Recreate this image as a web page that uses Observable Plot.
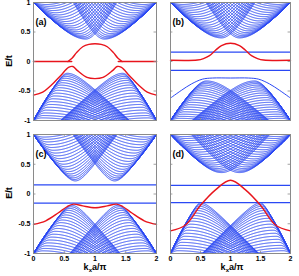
<!DOCTYPE html>
<html><head><meta charset="utf-8">
<script src="https://cdn.jsdelivr.net/npm/d3@7"></script>
<script src="https://cdn.jsdelivr.net/npm/@observablehq/plot@0.6"></script>
<style>
body{margin:0;background:#fff;width:299px;height:276px;position:relative;overflow:hidden;font-family:"Liberation Sans",Arial,sans-serif;}
.p{position:absolute;}
.lab{position:absolute;font-weight:bold;font-size:9px;color:#000;white-space:nowrap;}
</style></head><body>
<script>
// ---- data ----
const panelNames = ["(a)", "(b)", "(c)", "(d)"];
const xTicks = [0, 0.5, 1, 1.5, 2];
const yTicks = [-1, -0.5, 0, 0.5, 1];
// lowest bulk arc of each half panel: [min |E|, k at that min, |E| at k=1]
const bulkUpper = [[0.38, 0.85, 0.47], [0.40, 0.85, 0.47], [0.22, 0.68, 0.51], [0.36, 0.85, 0.40]];
const bulkLower = [[0.20, 0.55, 0.48], [0.33, 0.60, 0.49], [0.19, 0.62, 0.51], [0.15, 0.50, 0.53]];
// relative position of the nested bulk arcs (0 = lowest arc, 1 = band edge at |E| = 1)
const bulkNest = [0, 0.03, 0.065, 0.105, 0.15, 0.2, 0.25, 0.305, 0.36, 0.42, 0.48, 0.54, 0.60, 0.66, 0.72, 0.78, 0.84, 0.895, 0.945];

// red and extra bands, sampled from 0 to 1 (mirror symmetric about k = 1)
const redA_flatK = [0, 0.62], redA_flatE = [0, 0];
const redA_domeK = [0.56, 0.63, 0.70, 0.80, 0.90, 1.0], redA_domeE = [0, 0.06, 0.15, 0.25, 0.29, 0.30];
const redA_lowK = [0, 0.15, 0.28, 0.44, 0.57, 0.64, 0.71, 0.87, 1.0], redA_lowE = [-0.57, -0.52, -0.41, -0.24, -0.10, -0.085, -0.15, -0.27, -0.29];
const redB_K = [0, 0.45, 0.55, 0.65, 0.75, 0.85, 1.0], redB_E = [0.02, 0.025, 0.05, 0.10, 0.19, 0.27, 0.31];
const blueB_lowK = [0, 0.18, 0.35, 0.53, 0.7, 1.0], blueB_lowE = [-0.62, -0.49, -0.38, -0.30, -0.28, -0.28];
const redC_K = [0, 0.2, 0.4, 0.55, 0.65, 0.8, 1.0], redC_E = [-0.51, -0.45, -0.32, -0.21, -0.17, -0.20, -0.23];
const redD_K = [0, 0.25, 0.5, 0.75, 1.0], redD_E = [-0.62, -0.52, -0.19, 0.07, 0.23];
const flatB = [0.16, -0.15], flatC = [0.155, -0.155], flatD = [0.145, -0.145];

// ---- helpers ----
const BLUE = "#2a48f4", RED = "#e8141c", FRAME = "#8a8a8a";
function mirror(K, E) {
  const pts = K.map((k, i) => ({k, E: E[i]}));
  const back = K.slice().reverse().filter(k => k < 1).map((k) => ({k: 2 - k, E: E[K.indexOf(k)]}));
  return pts.concat(back);
}
function bulk(params, sign, tag) {
  const [D0, kc0, X0] = params;
  const vR0 = Math.sqrt(X0 * X0 - D0 * D0) / (1 - kc0);
  const out = [];
  bulkNest.forEach((f, j) => {
    const D = D0 + (1 - D0) * f;
    const kc = kc0 * (1 - 0.8 * f);
    const vR = vR0 * (1 - 0.4 * f);
    const vL = Math.sqrt(Math.max(1 - D * D, 0)) / kc;
    for (const side of [0, 1]) {
      for (let i = 0; i <= 400; i++) {
        const x = i / 200;
        const v = x < kc ? vL : vR;
        const e = Math.sqrt(D * D + v * v * (x - kc) * (x - kc));
        out.push({k: side ? 2 - x : x, E: sign * e, id: tag + j + "_" + side});
      }
    }
  });
  return out;
}

function panel(idx) {
  const left = idx % 2 === 0, top = idx < 2;
  const marks = [];
  marks.push(Plot.line(bulk(bulkUpper[idx], 1, "u"), {x: "k", y: "E", z: "id", stroke: BLUE, strokeWidth: 1, clip: true}));
  marks.push(Plot.line(bulk(bulkLower[idx], -1, "l"), {x: "k", y: "E", z: "id", stroke: BLUE, strokeWidth: 1, clip: true}));
  const flats = [null, flatB, flatC, flatD][idx];
  if (flats) marks.push(Plot.ruleY(flats, {stroke: BLUE, strokeWidth: 1.2, clip: true}));
  const curve = "catmull-rom";
  if (idx === 0) {
    marks.push(Plot.line(mirror(redA_lowK, redA_lowE), {x: "k", y: "E", stroke: RED, strokeWidth: 1.4, curve}));
    marks.push(Plot.line(mirror(redA_domeK, redA_domeE), {x: "k", y: "E", stroke: RED, strokeWidth: 1.4, curve}));
    marks.push(Plot.line(redA_flatK.map((k, i) => ({k, E: redA_flatE[i]})), {x: "k", y: "E", stroke: RED, strokeWidth: 1.6}));
    marks.push(Plot.line(redA_flatK.map((k, i) => ({k: 2 - k, E: redA_flatE[i]})), {x: "k", y: "E", stroke: RED, strokeWidth: 1.6}));
  } else if (idx === 1) {
    marks.push(Plot.line(mirror(blueB_lowK, blueB_lowE), {x: "k", y: "E", stroke: BLUE, strokeWidth: 1, curve, clip: true}));
    marks.push(Plot.line(mirror(redB_K, redB_E), {x: "k", y: "E", stroke: RED, strokeWidth: 1.4, curve}));
  } else if (idx === 2) {
    marks.push(Plot.line(mirror(redC_K, redC_E), {x: "k", y: "E", stroke: RED, strokeWidth: 1.4, curve}));
  } else {
    marks.push(Plot.line(mirror(redD_K, redD_E), {x: "k", y: "E", stroke: RED, strokeWidth: 1.4, curve}));
  }
  // inward ticks
  const tl = 0.04, th = 0.035;
  marks.push(Plot.ruleY(yTicks, {x1: 0, x2: tl, stroke: FRAME, strokeWidth: 0.8}));
  marks.push(Plot.ruleY(yTicks, {x1: 2 - tl, x2: 2, stroke: FRAME, strokeWidth: 0.8}));
  marks.push(Plot.ruleX(xTicks, {y1: -1, y2: -1 + th, stroke: FRAME, strokeWidth: 0.8}));
  marks.push(Plot.ruleX(xTicks, {y1: 1 - th, y2: 1, stroke: FRAME, strokeWidth: 0.8}));
  marks.push(Plot.frame({stroke: FRAME, strokeWidth: 1}));
  if (left) marks.push(Plot.axisY({ticks: yTicks, tickSize: 0, tickPadding: 3, label: null, tickFormat: d => String(d)}));
  if (!top) marks.push(Plot.axisX({ticks: xTicks, tickSize: 0, tickPadding: 3, label: null, tickFormat: d => String(d)}));
  marks.push(Plot.text([panelNames[idx]], {frameAnchor: "top-left", dx: 2, dy: 16, fontSize: 9, fontWeight: "bold", fill: "#000"}));

  const width = left ? 160 : 131;
  const height = top ? 125 : 146;
  const chart = Plot.plot({
    width, height,
    marginLeft: left ? 33 : 5, marginRight: left ? 4 : 6,
    marginTop: top ? 2 : 4, marginBottom: top ? 5 : 23,
    x: {domain: [0, 2], axis: null},
    y: {domain: [-1, 1], axis: null},
    style: {fontFamily: "Liberation Sans, Arial, sans-serif", fontSize: "7px", fontWeight: "bold", color: "#000", background: "transparent"},
    marks
  });
  chart.classList.add("p");
  chart.style.left = (left ? 0 : 165) + "px";
  chart.style.top = (top ? 0 : 130) + "px";
  document.body.appendChild(chart);
}
[0, 1, 2, 3].forEach(panel);

function label(html, x, y, rot) {
  const d = document.createElement("div");
  d.className = "lab";
  d.innerHTML = html;
  d.style.left = x + "px"; d.style.top = y + "px";
  if (rot) { d.style.transform = "translate(-50%,-50%) rotate(-90deg)"; } else { d.style.transform = "translateX(-50%)"; }
  document.body.appendChild(d);
}
label("E/t", 9, 61, true);
label("E/t", 9, 193, true);
label("k<sub style='font-size:6px;vertical-align:-2px'>x</sub>a/π", 95, 262);
label("k<sub style='font-size:6px;vertical-align:-2px'>x</sub>a/π", 232, 262);
</script>
</body></html>
